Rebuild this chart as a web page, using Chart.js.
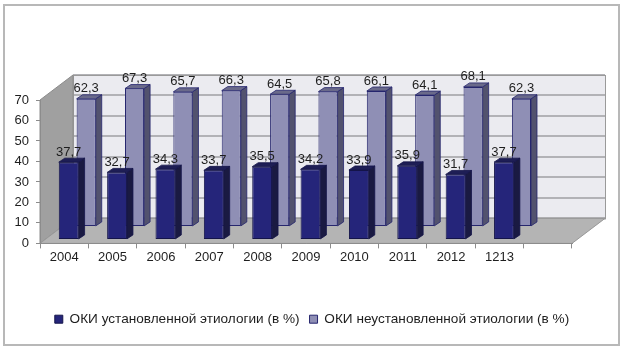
<!DOCTYPE html>
<html>
<head>
<meta charset="utf-8">
<script src="https://cdn.jsdelivr.net/npm/chart.js@4.4.1/dist/chart.umd.min.js"></script>
<style>
  html, body { margin: 0; padding: 0; background: #fff; }
  #wrap { width: 624px; height: 352px; }
</style>
</head>
<body>
<div id="wrap"><canvas id="chart"></canvas></div>
<script>
// data
const years = ["2004", "2005", "2006", "2007", "2008", "2009", "2010", "2011", "2012", "1213", ""];
const knownCause = [37.7, 32.7, 34.3, 33.7, 35.5, 34.2, 33.9, 35.9, 31.7, 37.7];
const unknownCause = [62.3, 67.3, 65.7, 66.3, 64.5, 65.8, 66.1, 64.1, 68.1, 62.3];
const seriesNames = ["ОКИ установленной этиологии (в %)", "ОКИ неустановленной этиологии (в %)"];
const yMin = 0, yMax = 70, yStep = 10;

const FONT = "'Liberation Sans', Arial, sans-serif";
const TEXT = "#1e1e1e";

// 3d look: wall depth, row offsets and bar depth (pixels)
const WALL = { x: 33, y: -25 };
const BAR_DEPTH = { x: 6, y: -4 };
const rows = [
  { dx: 4.5, dy: -4, side: "#1a1a42", top: "#1e1e55" },   // front row
  { dx: 22, dy: -17, side: "#52526e", top: "#6a6a8a" }    // back row
];

function poly(ctx, pts, fill, stroke) {
  ctx.beginPath();
  ctx.moveTo(pts[0][0], pts[0][1]);
  for (let i = 1; i < pts.length; i++) ctx.lineTo(pts[i][0], pts[i][1]);
  ctx.closePath();
  if (fill) { ctx.fillStyle = fill; ctx.fill(); }
  if (stroke) { ctx.strokeStyle = stroke; ctx.stroke(); }
}

const fmt = v => v.toFixed(1).replace(".", ",");

const box3d = {
  id: "box3d",
  beforeDraw(chart) {
    const { ctx, chartArea: a, scales } = chart;
    const y = scales.y;
    const dx = WALL.x, dy = WALL.y;
    ctx.save();
    ctx.fillStyle = "#fff";
    ctx.fillRect(0, 0, chart.width, chart.height);
    // outer frame
    ctx.strokeStyle = "#b8b8b8";
    ctx.lineWidth = 2;
    ctx.strokeRect(4, 5, 615, 340);

    // back wall
    ctx.fillStyle = "#ebebf0";
    ctx.fillRect(a.left + dx, a.top + dy, a.right - a.left, a.bottom - a.top);
    ctx.lineWidth = 2;
    ctx.strokeStyle = "#b2b2b6";
    y.ticks.forEach(t => {
      const py = Math.round(y.getPixelForValue(t.value) + dy);
      ctx.beginPath();
      ctx.moveTo(a.left + dx, py);
      ctx.lineTo(a.right + dx, py);
      ctx.stroke();
    });
    ctx.lineWidth = 1;
    ctx.strokeStyle = "#9a9a9a";
    ctx.strokeRect(a.left + dx + 0.5, a.top + dy + 0.5, a.right - a.left, a.bottom - a.top);

    // side wall
    poly(ctx, [[a.left, a.top], [a.left + dx, a.top + dy], [a.left + dx, a.bottom + dy], [a.left, a.bottom]], "#a0a0a0", "#8c8c8c");
    // floor
    poly(ctx, [[a.left, a.bottom], [a.left + dx, a.bottom + dy], [a.right + dx, a.bottom + dy], [a.right, a.bottom]], "#b4b4b4", "#999");
    ctx.restore();
  },
  beforeDatasetDraw(chart, args) {
    const r = rows[args.index];
    chart.ctx.save();
    chart.ctx.translate(r.dx, r.dy);
  },
  afterDatasetDraw(chart, args) {
    const ctx = chart.ctx;
    const r = rows[args.index];
    const ds = chart.data.datasets[args.index];
    const bx = BAR_DEPTH.x, by = BAR_DEPTH.y;
    ctx.lineWidth = 0.8;
    args.meta.data.forEach((bar, i) => {
      const p = bar.getProps(["x", "y", "base", "width"], true);
      const l = p.x - p.width / 2, rt = p.x + p.width / 2;
      poly(ctx, [[rt, p.y], [rt + bx, p.y + by], [rt + bx, p.base + by], [rt, p.base]], r.side, ds.borderColor);
      poly(ctx, [[l, p.y], [l + bx, p.y + by], [rt + bx, p.y + by], [rt, p.y]], r.top, ds.borderColor);
      ctx.fillStyle = TEXT;
      ctx.font = "13px " + FONT;
      ctx.textAlign = "center";
      ctx.textBaseline = "middle";
      ctx.fillText(fmt(ds.data[i]), p.x, p.y - 10);
    });
    ctx.restore();
  }
};

new Chart(document.getElementById("chart"), {
  type: "bar",
  data: {
    labels: years,
    datasets: [
      {
        label: seriesNames[0],
        data: knownCause,
        backgroundColor: "#25257a",
        borderColor: "#15154a",
        borderWidth: 1,
        borderSkipped: false,
        grouped: false,
        barPercentage: 0.41,
        categoryPercentage: 1,
        clip: false
      },
      {
        label: seriesNames[1],
        data: unknownCause,
        backgroundColor: "#8f8fb5",
        borderColor: "#26266e",
        borderWidth: 1,
        borderSkipped: false,
        grouped: false,
        barPercentage: 0.395,
        categoryPercentage: 1,
        clip: false
      }
    ]
  },
  options: {
    responsive: true,
    maintainAspectRatio: false,
    animation: false,
    events: [],
    layout: { padding: { left: 0, right: 0, top: 100, bottom: 16 } },
    scales: {
      x: {
        offset: true,
        grid: { display: true, offset: true, drawOnChartArea: false, drawTicks: true, tickLength: 5, color: "#8c8c8c" },
        border: { display: true, color: "#8c8c8c" },
        ticks: { color: TEXT, font: { family: FONT, size: 13 }, padding: 1, maxRotation: 0, autoSkip: false },
        afterFit: s => { s.height = 59; }
      },
      y: {
        min: yMin,
        max: yMax,
        grid: { display: true, drawOnChartArea: false, drawTicks: true, tickLength: 4, color: "#8c8c8c" },
        border: { display: true, color: "#8c8c8c" },
        ticks: { stepSize: yStep, color: TEXT, font: { family: FONT, size: 13 }, padding: 7 },
        afterFit: s => { s.width = 40; }
      },
      // empty right-hand space so the legend stays centred on the whole frame
      yRight: {
        position: "right",
        min: yMin,
        max: yMax,
        grid: { display: false },
        border: { display: false },
        ticks: { display: false },
        afterFit: s => { s.width = 52; }
      }
    },
    plugins: {
      legend: {
        position: "bottom",
        labels: {
          boxWidth: 8,
          boxHeight: 8,
          padding: 10,
          color: TEXT,
          font: { family: FONT, size: 13.6 }
        }
      },
      tooltip: { enabled: false }
    }
  },
  plugins: [box3d]
});
</script>
</body>
</html>
